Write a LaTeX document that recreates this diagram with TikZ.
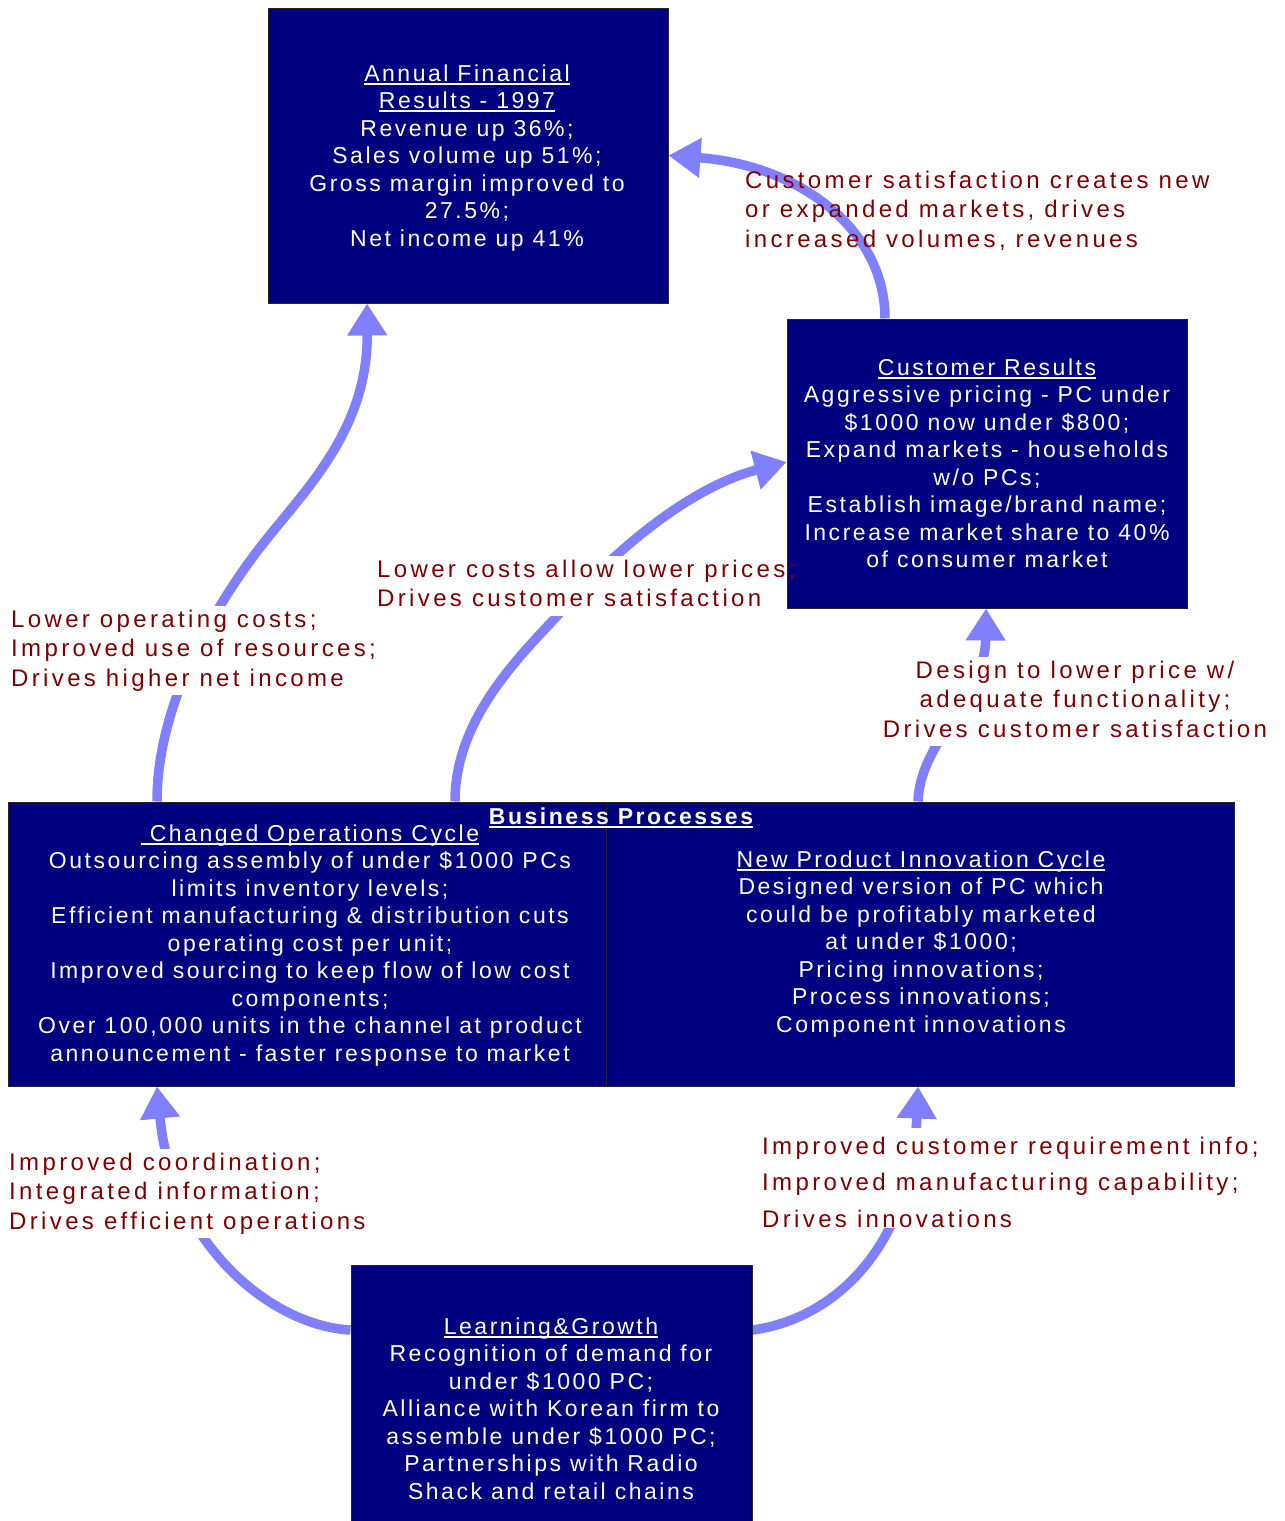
\documentclass[tikz,border=0pt]{standalone}
\usepackage{fontspec}
\setmainfont{Liberation Sans}
\newfontfamily\boxfont{Liberation Sans}[LetterSpace=11]
\newfontfamily\lblfont{Liberation Sans}[LetterSpace=14]
\usetikzlibrary{arrows.meta,calc}
\pgfdeclarelayer{bglayer}
\pgfdeclarelayer{arrowlayer}
\pgfdeclarelayer{masklayer}
\pgfsetlayers{bglayer,arrowlayer,masklayer,main}
\definecolor{boxnavy}{RGB}{0,0,128}
\definecolor{arrowblue}{RGB}{128,128,255}
\definecolor{lblred}{RGB}{128,0,0}
\newcommand\ulin[1]{\setbox0=\hbox{#1}\rlap{\vrule width\wd0 height -1.5pt depth 3.5pt}\box0}
\tikzset{
  panel/.style={draw=black!85, line width=1pt, fill=boxnavy, inner sep=0pt},
  paneltext/.style={text=white, font=\boxfont\fontsize{23}{27.5}\selectfont, align=center, inner sep=0pt, anchor=north},
  lbl/.style={text=lblred, font=\lblfont\fontsize{24}{29.5}\selectfont, inner sep=0pt},
  flow/.style={draw=arrowblue, line width=9.5pt, -{Triangle[length=32pt,width=38pt]}},
  maskfill/.style={fill=white},
}
\begin{document}
\begin{tikzpicture}[x=1pt,y=-1pt]
\useasboundingbox (0,0) rectangle (1285,1521);
\begin{pgfonlayer}{bglayer}
\fill[white] (0,0) rectangle (1285,1521);
\end{pgfonlayer}

% boxes
\node[panel, minimum width=400pt, minimum height=295pt] (fin) at (468,155.5) {};
\node[panel, minimum width=400pt, minimum height=289pt] (cust) at (987,463.5) {};
\node[panel, minimum width=1226pt, minimum height=284pt] (bp) at (621,944) {};
\node[panel, minimum width=401pt, minimum height=260pt] (lg) at (551.5,1395) {};
\draw[line width=1pt, black!85] ([xshift=-15pt]bp.north) -- ([xshift=-15pt]bp.south);

% box texts
\node[paneltext] (fintxt) at (467,61.75) {\strut\ulin{Annual Financial}\\\ulin{Results - 1997}\\Revenue up 36\%;\\Sales volume up 51\%;\\Gross margin improved to\\27.5\%;\\Net income up 41\%};
\node[paneltext] (custtxt) at (987,355.75) {\strut\ulin{Customer Results}\\Aggressive pricing - PC under\\\$1000 now under \$800;\\Expand markets - households\\w/o PCs;\\Establish image/brand name;\\Increase market share to 40\%\\of consumer market};
\node[anchor=base, text=white, font=\boxfont\bfseries\fontsize{23}{27.5}\selectfont, inner sep=0pt] (bptitle) at (621,824) {\ulin{Business Processes}};
\node[paneltext] (optxt) at (310,821.75) {\strut\ulin{~Changed Operations Cycle}\\Outsourcing assembly of under \$1000 PCs\\limits inventory levels;\\Efficient manufacturing \& distribution cuts\\operating cost per unit;\\Improved sourcing to keep flow of low cost\\components;\\Over 100,000 units in the channel at product\\announcement - faster response to market};
\node[paneltext] (nptxt) at (921,847.75) {\strut\ulin{New Product Innovation Cycle}\\Designed version of PC which\\could be profitably marketed\\at under \$1000;\\Pricing innovations;\\Process innovations;\\Component innovations};
\node[paneltext] (lgtxt) at (551,1314.75) {\strut\ulin{Learning\&Growth}\\Recognition of demand for\\under \$1000 PC;\\Alliance with Korean firm to\\assemble under \$1000 PC;\\Partnerships with Radio\\Shack and retail chains};

% labels
\node[lbl, anchor=north west, align=left] (l1) at (745,167.35) {\strut Customer satisfaction creates new\\or expanded markets, drives\\increased volumes, revenues};
\node[lbl, anchor=north west, align=left] (l2) at (377,556.35) {\strut Lower costs allow lower prices;\\Drives customer satisfaction\strut};
\node[lbl, anchor=north west, align=left] (l3) at (11,606.35) {\strut Lower operating costs;\\Improved use of resources;\\Drives higher net income\strut};
\node[lbl, anchor=north, align=center] (l4) at (1075,657.35) {\strut Design to lower price w/\\adequate functionality;\\Drives customer satisfaction\strut};
\node[lbl, anchor=north west, align=left] (l5) at (9,1149.35) {\strut Improved coordination;\\Integrated information;\\Drives efficient operations\strut};
\node[lbl, anchor=north west, align=left, font=\lblfont\fontsize{24}{36.5}\selectfont] (l6) at (762,1128.45) {\strut Improved customer requirement info;\\Improved manufacturing capability;\\Drives innovations};

\begin{pgfonlayer}{masklayer}
\foreach \l in {l2,l3,l4,l5,l6}
  \fill[maskfill] ([xshift=-4pt]\l.south west) rectangle ([xshift=4pt]\l.north east);
\end{pgfonlayer}

% connectors
\begin{pgfonlayer}{arrowlayer}
\draw[flow] ([xshift=-102pt]cust.north) .. controls (885,230) and (800,165) .. (fin.east);
\draw[flow] ([xshift=-464pt]bp.north) .. controls (157,700) and (219,600) .. (262,545) .. controls (305,490) and (368,430) .. ([xshift=-101pt]fin.south);
\draw[flow] ([xshift=-166pt]bp.north) .. controls (455,720) and (517,659) .. (558,615) .. controls (600,566) and (680,490) .. ([yshift=1.5pt]cust.west);
\draw[flow] ([xshift=297pt]bp.north) .. controls (920,740) and (985,700) .. ([xshift=-1pt]cust.south);
\draw[flow] ([yshift=65pt]lg.west) .. controls (272,1326) and (172,1245) .. ([xshift=-464pt]bp.south);
\draw[flow] ([yshift=65pt]lg.east) .. controls (840,1318) and (912,1240) .. ([xshift=297pt]bp.south);
\end{pgfonlayer}
\end{tikzpicture}
\end{document}
